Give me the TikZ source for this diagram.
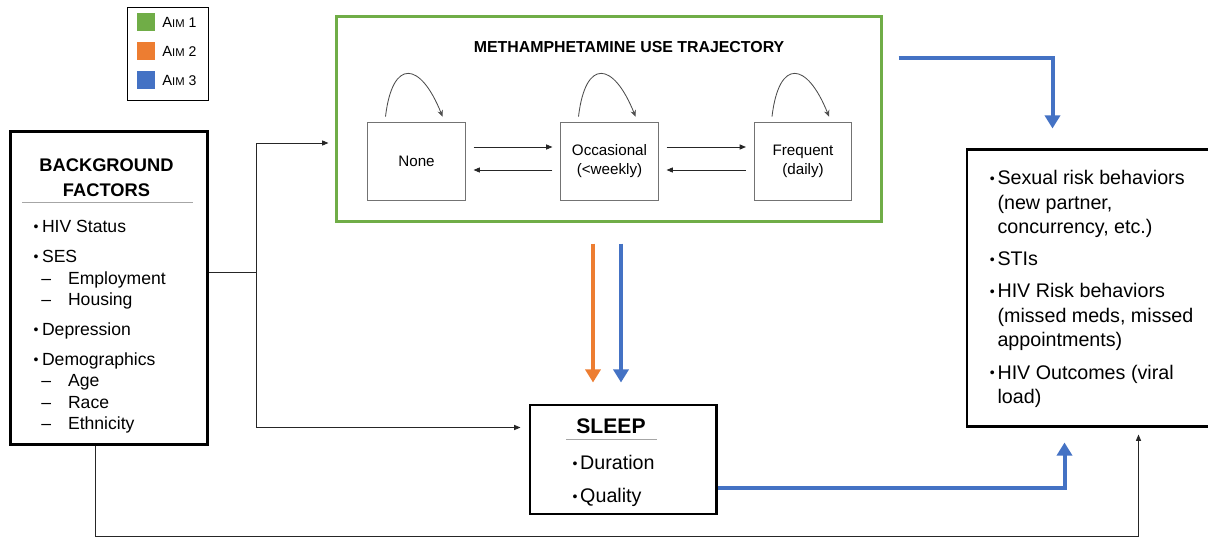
\documentclass[tikz,border=0pt]{standalone}
\usepackage{fontspec}
\setmainfont{Liberation Sans}
\usetikzlibrary{arrows.meta,calc}

\definecolor{aimgreen}{HTML}{70AD47}
\definecolor{aimorange}{HTML}{ED7D31}
\definecolor{aimblue}{HTML}{4472C4}

% Etiquetas de la leyenda y vinetas
\newcommand{\aimtag}[1]{{\fontsize{10.5}{12}\selectfont A}{\fontsize{8}{10}\selectfont IM} #1}
\newcommand{\smallbullet}{\raisebox{0.1ex}{\fontsize{10}{10}\selectfont\textbullet}}
\newcommand{\bgitem}[1]{\makebox[10.5pt][r]{\smallbullet\hspace{2.5pt}}#1}
\newcommand{\bgsub}[1]{\hspace*{10pt}\makebox[19pt][l]{--}#1}
\newcommand{\outitem}[1]{\makebox[8pt][r]{\smallbullet\hspace{2pt}}#1}

\tikzset{
  heavybox/.style={draw=black, line width=2.1pt, inner sep=0pt},
  aimframe/.style={draw=aimgreen, line width=2.1pt, minimum width=13.6cm, minimum height=5.1cm},
  stagebox/.style={draw=black!55, line width=0.6pt, minimum width=2.43cm, minimum height=1.95cm,
    align=center, inner sep=0pt, font=\fontsize{10.8}{13.5}\selectfont},
  swatch/.style={minimum size=0.45cm, inner sep=0pt},
  legendtext/.style={anchor=west, inner sep=0pt},
  listtext/.style={anchor=north west, align=left, inner sep=0pt},
  flowline/.style={draw=black!85, line width=0.6pt},
  flowarrow/.style={flowline, -{Triangle[length=4.5pt,width=3.6pt]}},
  looparrow/.style={draw=black!70, line width=0.6pt, -{Stealth[length=4.5pt,width=4pt]}},
  aimarrow/.style={line width=2.85pt, -{Triangle[length=0.33cm,width=0.38cm]}},
  rulegray/.style={draw=black!35, line width=0.7pt}
}

\begin{document}
\begin{tikzpicture}[x=0.025cm, y=-0.025cm]
    % Area fija de la figura
    \useasboundingbox (0,0) rectangle (1208,537);

    % Leyenda
    \node[draw=black, line width=0.6pt, minimum width=2.025cm, minimum height=2.325cm] (legend) at (167.5,53.5) {};
    \node[swatch, fill=aimgreen] (sw1) at (146,22) {};
    \node[swatch, fill=aimorange] (sw2) at (146,51) {};
    \node[swatch, fill=aimblue] (sw3) at (146,80) {};
    \node[legendtext] (lg1) at (162,22) {\aimtag{1}};
    \node[legendtext] (lg2) at (162,51) {\aimtag{2}};
    \node[legendtext] (lg3) at (162,80) {\aimtag{3}};

    % Trayectoria de uso
    \node[aimframe] (traj) at (609,119) {};
    \node[anchor=base, font=\bfseries\fontsize{11.3}{13}\selectfont] (trajtitle) at (629,53) {METHAMPHETAMINE USE TRAJECTORY};
    \node[stagebox] (none) at (416.5,161) {None};
    \node[stagebox] (occ) at (609.5,161) {Occasional\\(<weekly)};
    \node[stagebox] (freq) at (803,161) {Frequent\\(daily)};

    % Transiciones
    \foreach \a/\b in {none/occ, occ/freq} {
      \draw[flowarrow] ($(\a.east)+(8,-14)$) -- ($(\b.west)+(-8,-14)$);
      \draw[flowarrow] ($(\b.west)+(-8,9)$) -- ($(\a.east)+(8,9)$);
    }
    \foreach \n in {none, occ, freq}
      \draw[looparrow] ($(\n.north)+(-31,-5)$) .. controls ($(\n.north)+(-24,-64)$) and ($(\n.north)+(4,-60)$) .. ($(\n.north)+(26,-5)$);

    % Factores de fondo
    \node[heavybox, minimum width=4.9cm, minimum height=7.8cm] (bg) at (109,288) {};
    \node[align=center, inner sep=0pt, font=\bfseries\fontsize{13}{17.8}\selectfont] (bgtitle) at (106.5,178) {BACKGROUND\\FACTORS};
    \draw[rulegray] (22,202) -- (193,202);
    \node[listtext, font=\fontsize{12.5}{15.3}\selectfont] (bglist) at (27,220) {%
      \bgitem{HIV Status}\\[6pt]
      \bgitem{SES}\\
      \bgsub{Employment}\\
      \bgsub{Housing}\\[6pt]
      \bgitem{Depression}\\[6pt]
      \bgitem{Demographics}\\
      \bgsub{Age}\\
      \bgsub{Race}\\
      \bgsub{Ethnicity}};

    % Sueno
    \node[heavybox, minimum width=4.65cm, minimum height=2.725cm] (sleep) at (623,459.5) {};
    \node[anchor=base, inner sep=0pt, font=\bfseries\fontsize{15}{18}\selectfont] (sleeptitle) at (611,433) {SLEEP};
    \draw[rulegray] (566,439) -- (657,439);
    \node[listtext, font=\fontsize{14}{23.5}\selectfont] (sleeplist) at (568,455) {%
      \makebox[8.5pt][r]{\smallbullet\hspace{2pt}}Duration\\
      \makebox[8.5pt][r]{\smallbullet\hspace{2pt}}Quality};

    % Resultados
    \node[heavybox, minimum width=6.375cm, minimum height=6.9cm] (out) at (1094.5,288) {};
    \node[listtext, font=\fontsize{14}{17.4}\selectfont] (outlist) at (986,170) {%
      \outitem{Sexual risk behaviors}\\
      \hspace*{8pt}(new partner,\\
      \hspace*{8pt}concurrency, etc.)\\[5.5pt]
      \outitem{STIs}\\[5.5pt]
      \outitem{HIV Risk behaviors}\\
      \hspace*{8pt}(missed meds, missed\\
      \hspace*{8pt}appointments)\\[5.5pt]
      \outitem{HIV Outcomes (viral}\\
      \hspace*{8pt}load)};

    % Flechas desde los factores de fondo
    \coordinate (split) at ($(bg.east)+(48,-16)$);
    \draw[flowline] ($(bg.east)+(0,-16)$) -- (split);
    \draw[flowarrow] (split) |- ($(traj.west)+(-7,24)$);
    \draw[flowarrow] (split) |- ($(sleep.west)+(-8,-32)$);
    \draw[flowarrow] ($(bg.south)+(-14,0)$) -- ++(0,90.5) -| ($(out.south west)+(173,7)$);

    % Flechas de los objetivos
    \draw[aimarrow, aimorange] ($(traj.south)+(-16,21)$) -- ($(sleep.north)+(-30,-21)$);
    \draw[aimarrow, aimblue] ($(traj.south)+(12,21)$) -- ($(sleep.north)+(-2,-21)$);
    \draw[aimarrow, aimblue] ($(traj.north east)+(16,43)$) -| ($(out.north west)+(87,-20)$);
    \draw[aimarrow, aimblue] ($(sleep.east)+(0,28.5)$) -| ($(out.south west)+(99,15)$);
\end{tikzpicture}
\end{document}
